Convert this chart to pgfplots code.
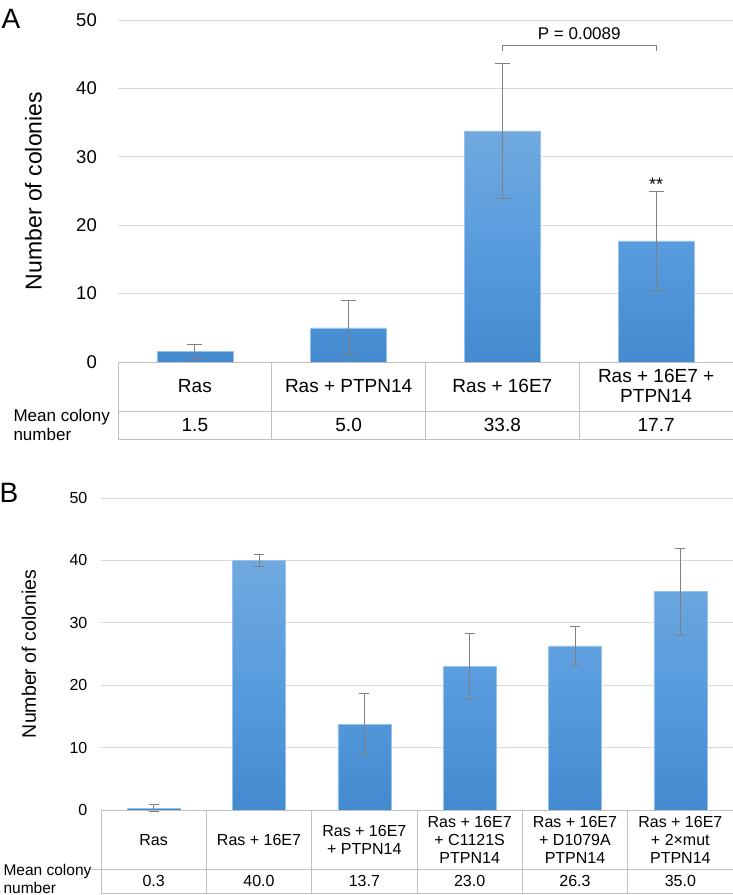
\documentclass[border=0pt]{standalone}
\usepackage{fontspec}
\setmainfont{Liberation Sans}
\usepackage{pgfplots}
\usepackage{pgfplotstable}
\pgfplotsset{compat=1.18}
\definecolor{gridc}{HTML}{D9D9D9}
\definecolor{tabc}{HTML}{BFBFBF}
\definecolor{errc}{HTML}{808080}
\definecolor{bartop}{RGB}{112,169,222}
\definecolor{barmid}{RGB}{88,156,222}
\definecolor{barbot}{RGB}{68,138,207}
\definecolor{baredge}{RGB}{150,195,235}

\pgfplotstableread{
x y e
0 1.5 1.0
1 5.0 4.0
2 33.8 9.85
3 17.7 7.3
}\dataA

\pgfplotstableread{
x y e
0 0.3 0.6
1 40.0 1.0
2 13.7 5.0
3 23.0 5.25
4 26.3 3.05
5 35.0 7.0
}\dataB

\pgfplotsset{
 mybase/.style={
  scale only axis, ymin=0, ymax=50, ytick={0,10,...,50},
  ymajorgrids, grid style={gridc, line width=0.8pt},
  axis line style={draw=none}, major tick length=0pt,
  xtick=data, clip=false,
  /pgf/number format/assume math mode=true,
  yticklabel style={anchor=east, inner sep=0pt},
  xticklabel style={anchor=center, align=center, inner sep=0pt},
 }
}

\begin{document}
\begin{tikzpicture}
\useasboundingbox (0,0) rectangle (733pt,895pt);
% ---------------- Panel A ----------------
\begin{axis}[mybase, at={(118pt,533pt)}, anchor=south west, width=615pt, height=342pt,
 xmin=-0.5, xmax=3.5,
 yticklabel style={xshift=-21pt, font=\fontsize{18.5}{22}\selectfont},
 xticklabels={Ras, Ras + PTPN14, Ras + 16E7, {Ras + 16E7 +\\PTPN14}},
 xticklabel style={yshift=-24pt, font=\fontsize{19}{20.5}\selectfont},
 ylabel={Number of colonies},
 every axis y label/.style={at={(rel axis cs:0,0.5)}, anchor=center, xshift=-84.5pt, rotate=90, font=\fontsize{23}{26}\selectfont},
]
\addplot[ybar, bar width=76pt, bar shift=0pt, draw=baredge, line width=0.5pt, top color=bartop, bottom color=barbot, middle color=barmid] table[x=x,y=y] {\dataA};
\addplot[draw=none, mark=none, forget plot, error bars/.cd, y dir=both, y explicit,
  error bar style={draw=errc, line width=0.8pt},
  error mark options={draw=errc, rotate=90, mark size=7.5pt, line width=0.8pt}] table[x=x, y=y, y error=e] {\dataA};
% table
\draw[tabc, line width=0.8pt] (axis cs:-0.5,0) -- (axis cs:3.5,0);
\draw[tabc, line width=0.8pt] (axis cs:-0.5,-7.16) -- (axis cs:3.5,-7.16);
\draw[tabc, line width=0.8pt] (axis cs:-0.5,-11.26) -- (axis cs:3.5,-11.26);
\draw[tabc, line width=0.8pt] (axis cs:-0.5,0) -- (axis cs:-0.5,-11.26);
\draw[tabc, line width=0.8pt] (axis cs:0.5,0) -- (axis cs:0.5,-11.26);
\draw[tabc, line width=0.8pt] (axis cs:1.5,0) -- (axis cs:1.5,-11.26);
\draw[tabc, line width=0.8pt] (axis cs:2.5,0) -- (axis cs:2.5,-11.26);
\node[font=\fontsize{19}{22}\selectfont] at (axis cs:0,-9.21) {1.5};
\node[font=\fontsize{19}{22}\selectfont] at (axis cs:1,-9.21) {5.0};
\node[font=\fontsize{19}{22}\selectfont] at (axis cs:2,-9.21) {33.8};
\node[font=\fontsize{19}{22}\selectfont] at (axis cs:3,-9.21) {17.7};
% bracket
\draw[errc, line width=0.8pt] (axis cs:2,45.4) -- (axis cs:2,46.35) -- (axis cs:3,46.35) -- (axis cs:3,45.4);
\node[font=\fontsize{17}{20}\selectfont, anchor=base] at (axis cs:2.5,47.1) {P = 0.0089};
\node[font=\fontsize{18}{20}\selectfont, anchor=base] at (axis cs:3,25.1) {**};
\end{axis}
\node[anchor=west, align=left, font=\fontsize{17}{19}\selectfont] at (10pt,470pt) {Mean colony\\number};
\node[font=\fontsize{28}{30}\selectfont] at (11pt,876pt) {A};
% ---------------- Panel B ----------------
\begin{axis}[mybase, at={(101pt,85pt)}, anchor=south west, width=632pt, height=312pt,
 xmin=-0.5, xmax=5.5,
 yticklabel style={xshift=-13.5pt, font=\fontsize{16}{19}\selectfont},
 xticklabels={Ras, Ras + 16E7, {Ras + 16E7\\+ PTPN14}, {Ras + 16E7\\+ C1121S\\PTPN14}, {Ras + 16E7\\+ D1079A\\PTPN14}, {Ras + 16E7\\+ 2×mut\\PTPN14}},
 xticklabel style={yshift=-30pt, font=\fontsize{16}{18.3}\selectfont},
 ylabel={Number of colonies},
 every axis y label/.style={at={(rel axis cs:0,0.5)}, anchor=center, xshift=-72pt, rotate=90, font=\fontsize{19.5}{22}\selectfont},
]
\addplot[ybar, bar width=53pt, bar shift=0pt, draw=baredge, line width=0.5pt, top color=bartop, bottom color=barbot, middle color=barmid] table[x=x,y=y] {\dataB};
\addplot[draw=none, mark=none, forget plot, error bars/.cd, y dir=both, y explicit,
  error bar style={draw=errc, line width=0.8pt},
  error mark options={draw=errc, rotate=90, mark size=5pt, line width=0.8pt}] table[x=x, y=y, y error=e] {\dataB};
\draw[tabc, line width=0.8pt] (axis cs:-0.5,0) -- (axis cs:5.5,0);
\draw[tabc, line width=0.8pt] (axis cs:-0.6,-9.455) -- (axis cs:5.5,-9.455);
\draw[tabc, line width=0.8pt] (axis cs:-0.5,-13.3) -- (axis cs:5.5,-13.3);
\draw[tabc, line width=0.8pt] (axis cs:-0.5,0) -- (axis cs:-0.5,-13.3);
\draw[tabc, line width=0.8pt] (axis cs:0.5,0) -- (axis cs:0.5,-13.3);
\draw[tabc, line width=0.8pt] (axis cs:1.5,0) -- (axis cs:1.5,-13.3);
\draw[tabc, line width=0.8pt] (axis cs:2.5,0) -- (axis cs:2.5,-13.3);
\draw[tabc, line width=0.8pt] (axis cs:3.5,0) -- (axis cs:3.5,-13.3);
\draw[tabc, line width=0.8pt] (axis cs:4.5,0) -- (axis cs:4.5,-13.3);
\node[font=\fontsize{16}{19}\selectfont] at (axis cs:0,-11.38) {0.3};
\node[font=\fontsize{16}{19}\selectfont] at (axis cs:1,-11.38) {40.0};
\node[font=\fontsize{16}{19}\selectfont] at (axis cs:2,-11.38) {13.7};
\node[font=\fontsize{16}{19}\selectfont] at (axis cs:3,-11.38) {23.0};
\node[font=\fontsize{16}{19}\selectfont] at (axis cs:4,-11.38) {26.3};
\node[font=\fontsize{16}{19}\selectfont] at (axis cs:5,-11.38) {35.0};
\end{axis}
\node[anchor=west, align=left, font=\fontsize{15.5}{18}\selectfont] at (0pt,16pt) {Mean colony\\number};
\node[font=\fontsize{28}{30}\selectfont] at (9pt,402pt) {B};
\end{tikzpicture}
\end{document}
